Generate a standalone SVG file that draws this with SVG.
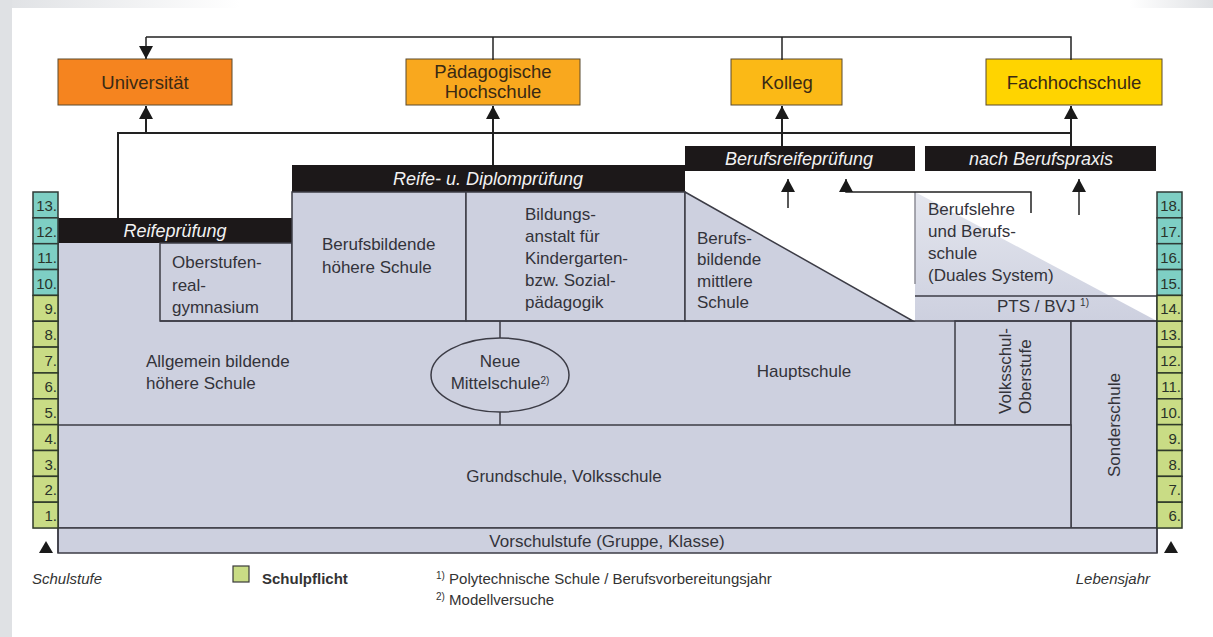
<svg xmlns="http://www.w3.org/2000/svg" width="1213" height="637" viewBox="0 0 1213 637">
<style>
.t{font-family:"Liberation Sans",Arial,sans-serif;font-size:17px;fill:#33333a}
.tb{font-family:"Liberation Sans",Arial,sans-serif;font-size:18.5px;fill:#3a2a14;text-anchor:middle}
.bar{fill:#1c1819}
.bt{font-family:"Liberation Sans",Arial,sans-serif;font-size:18px;font-style:italic;fill:#f2f2f2;text-anchor:middle}
.lav{fill:#cdd0df}
.ln{fill:none;stroke:#3c3c46;stroke-width:1.5}
.box{stroke:#5b4a2f;stroke-width:1}
.num{font-family:"Liberation Sans",Arial,sans-serif;font-size:15px;fill:#2a332a;text-anchor:end}
.teal{fill:#7ecfc4;stroke:#2f3a36;stroke-width:1.5}
.green{fill:#c9dc85;stroke:#2f3a2a;stroke-width:1.5}
.c{fill:none;stroke:#222;stroke-width:1.5}
.c2{fill:none;stroke:#222;stroke-width:2}
.leg{font-family:"Liberation Sans",Arial,sans-serif;font-size:15px;fill:#333}
.sup{font-size:10px}
</style>
<defs>
<marker id="ah" viewBox="0 0 13 14" refX="13" refY="7" markerWidth="13" markerHeight="14" markerUnits="userSpaceOnUse" orient="auto">
<path d="M0,0 L13,7 L0,14 Z" fill="#1a1a1a"/>
</marker>
<linearGradient id="gtl" x1="0" y1="0" x2="1" y2="0">
<stop offset="0" stop-color="#dfe1e4"/><stop offset="1" stop-color="#ffffff"/>
</linearGradient>
<linearGradient id="gtr" x1="0" y1="0" x2="1" y2="0">
<stop offset="0" stop-color="#ffffff"/><stop offset="1" stop-color="#dfe1e4"/>
</linearGradient>
<linearGradient id="gbl" x1="0" y1="0" x2="0" y2="1">
<stop offset="0" stop-color="#e4e6ee"/><stop offset="1" stop-color="#cdd0df"/>
</linearGradient>
</defs>

<rect width="1213" height="637" fill="#ffffff"/>
<rect x="0" y="0" width="240" height="8" fill="url(#gtl)"/>
<rect x="1130" y="0" width="83" height="8" fill="url(#gtr)"/>
<rect x="0" y="0" width="12" height="637" fill="#dfe1e4"/>

<!-- top institutions -->
<g id="universitaet"><rect class="box" x="58" y="59" width="174" height="46" fill="#f5841f"/><text class="tb" x="145" y="89">Universität</text></g>
<g id="paedagogische-hochschule"><rect class="box" x="406" y="59" width="174" height="46" fill="#f9a81e"/><text class="tb" x="493" y="78">Pädagogische</text><text class="tb" x="493" y="98">Hochschule</text></g>
<g id="kolleg"><rect class="box" x="731" y="59" width="111" height="46" fill="#fbb916"/><text class="tb" x="787" y="89">Kolleg</text></g>
<g id="fachhochschule"><rect class="box" x="986" y="59" width="176" height="46" fill="#ffd400"/><text class="tb" x="1074" y="89">Fachhochschule</text></g>

<!-- exam bars -->
<g id="reifepruefung"><rect class="bar" x="58" y="218" width="234" height="25"/><text class="bt" x="175" y="237">Reifeprüfung</text></g>
<g id="reife-diplompruefung"><rect class="bar" x="292" y="165" width="393" height="27"/><text class="bt" x="488" y="185">Reife- u. Diplomprüfung</text></g>
<g id="berufsreifepruefung"><rect class="bar" x="685" y="146" width="230" height="25"/><text class="bt" x="799" y="165">Berufsreifeprüfung</text></g>
<g id="nach-berufspraxis"><rect class="bar" x="925" y="146" width="231" height="25"/><text class="bt" x="1041" y="165">nach Berufspraxis</text></g>

<!-- schools -->
<g id="allgemein-bildende-hoehere-schule">
<path class="lav" d="M58,243 H160 V321 H955 V425 H58 Z"/>
<text class="t" x="146" y="367">Allgemein bildende</text>
<text class="t" x="146" y="389">höhere Schule</text>
</g>
<g id="oberstufenrealgymnasium">
<rect class="ln" x="160" y="243" width="132" height="78" style="fill:#cdd0df"/>
<text class="t" x="172" y="268">Oberstufen-</text>
<text class="t" x="172" y="291">real-</text>
<text class="t" x="172" y="313">gymnasium</text>
</g>
<g id="berufsbildende-hoehere-schule">
<rect class="ln" x="292" y="192" width="174" height="129" style="fill:#cdd0df"/>
<text class="t" x="322" y="250">Berufsbildende</text>
<text class="t" x="322" y="273">höhere Schule</text>
</g>
<g id="bildungsanstalt">
<rect class="ln" x="466" y="192" width="219" height="129" style="fill:#cdd0df"/>
<text class="t" x="525" y="220">Bildungs-</text>
<text class="t" x="525" y="242">anstalt für</text>
<text class="t" x="525" y="264">Kindergarten-</text>
<text class="t" x="525" y="286">bzw. Sozial-</text>
<text class="t" x="525" y="308">pädagogik</text>
</g>
<g id="berufsbildende-mittlere-schule">
<polygon class="ln" points="685,192 913,321 685,321" style="fill:#cdd0df"/>
<text class="t" x="697" y="244">Berufs-</text>
<text class="t" x="697" y="265">bildende</text>
<text class="t" x="697" y="287">mittlere</text>
<text class="t" x="697" y="308">Schule</text>
</g>
<g id="berufslehre">
<polygon points="915,192 1157,321 915,321" fill="url(#gbl)"/>
<line x1="915" y1="192" x2="915" y2="284" stroke="#8c8c96" stroke-width="1.5"/>
<text class="t" x="928" y="215">Berufslehre</text>
<text class="t" x="928" y="237">und Berufs-</text>
<text class="t" x="928" y="259">schule</text>
<text class="t" x="928" y="281">(Duales System)</text>
</g>
<g id="pts-bvj">
<line class="ln" x1="915" y1="296" x2="1157" y2="296"/>
<text class="t" x="1043" y="312" text-anchor="middle">PTS / BVJ <tspan class="sup" dy="-6">1)</tspan></text>
</g>
<g id="hauptschule">
<text class="t" x="804" y="377" text-anchor="middle">Hauptschule</text>
</g>
<g id="volksschul-oberstufe">
<rect class="ln" x="955" y="321" width="116" height="104" style="fill:#cdd0df"/>
<text class="t" transform="translate(1011,414) rotate(-90)">Volksschul-</text>
<text class="t" transform="translate(1031,414) rotate(-90)">Oberstufe</text>
</g>
<g id="sonderschule">
<rect class="ln" x="1071" y="321" width="86" height="207" style="fill:#cdd0df"/>
<text class="t" text-anchor="middle" transform="translate(1120,425) rotate(-90)">Sonderschule</text>
</g>
<g id="grundschule">
<rect class="ln" x="58" y="425" width="1013" height="103" style="fill:#cdd0df"/>
<text class="t" x="564" y="482" text-anchor="middle">Grundschule, Volksschule</text>
</g>
<g id="vorschulstufe">
<rect class="ln" x="58" y="528" width="1099" height="25" style="fill:#cdd0df"/>
<text class="t" x="607" y="547" text-anchor="middle">Vorschulstufe (Gruppe, Klasse)</text>
</g>
<g id="grid-lines">
<line class="ln" x1="58" y1="218" x2="58" y2="553"/>
<line class="ln" x1="160" y1="321" x2="1157" y2="321"/>
<line class="ln" x1="1157" y1="296" x2="1157" y2="553"/>
</g>
<g id="neue-mittelschule">
<line class="ln" x1="500" y1="321" x2="500" y2="338"/>
<line class="ln" x1="500" y1="412" x2="500" y2="425"/>
<ellipse class="ln" cx="500" cy="375" rx="69" ry="37" style="fill:#cdd0df"/>
<text class="t" x="500" y="367" text-anchor="middle">Neue</text>
<text class="t" x="500" y="389" text-anchor="middle">Mittelschule<tspan class="sup" dy="-5">2)</tspan></text>
</g>

<!-- connectors -->
<g id="connectors">
<path class="c" d="M146,37 H1071 V60"/>
<path class="c" d="M146,37 V59" marker-end="url(#ah)"/>
<path class="c" d="M493,37 V60"/>
<path class="c" d="M782,37 V60"/>
<path class="c2" d="M118,218 V133 H1072" stroke-width="2.5"/>
<path class="c2" d="M146,133 V106" marker-end="url(#ah)"/>
<path class="c2" d="M493,165 V106" marker-end="url(#ah)"/>
<path class="c2" d="M782,146 V106" marker-end="url(#ah)"/>
<path class="c2" d="M1071,146 V106" marker-end="url(#ah)"/>
<path class="c" d="M788,208 V179" marker-end="url(#ah)"/>
<path class="c" d="M1079,215 V179" marker-end="url(#ah)"/>
<path class="c" d="M1031,213 V192 H846 V179" marker-end="url(#ah)"/>
</g>

<!-- Schulstufe column -->
<g id="schulstufe-scale">
<rect class="teal" x="33" y="192" width="25" height="25.85"/><text class="num" x="57" y="211">13.</text>
<rect class="teal" x="33" y="217.85" width="25" height="25.85"/><text class="num" x="57" y="236.85">12.</text>
<rect class="teal" x="33" y="243.7" width="25" height="25.85"/><text class="num" x="57" y="262.7">11.</text>
<rect class="teal" x="33" y="269.55" width="25" height="25.85"/><text class="num" x="57" y="288.55">10.</text>
<rect class="green" x="33" y="295.4" width="25" height="25.85"/><text class="num" x="57" y="314.4">9.</text>
<rect class="green" x="33" y="321.25" width="25" height="25.85"/><text class="num" x="57" y="340.25">8.</text>
<rect class="green" x="33" y="347.1" width="25" height="25.85"/><text class="num" x="57" y="366.1">7.</text>
<rect class="green" x="33" y="372.95" width="25" height="25.85"/><text class="num" x="57" y="391.95">6.</text>
<rect class="green" x="33" y="398.8" width="25" height="25.85"/><text class="num" x="57" y="417.8">5.</text>
<rect class="green" x="33" y="424.65" width="25" height="25.85"/><text class="num" x="57" y="443.65">4.</text>
<rect class="green" x="33" y="450.5" width="25" height="25.85"/><text class="num" x="57" y="469.5">3.</text>
<rect class="green" x="33" y="476.35" width="25" height="25.85"/><text class="num" x="57" y="495.35">2.</text>
<rect class="green" x="33" y="502.2" width="25" height="25.85"/><text class="num" x="57" y="521.2">1.</text>
<polygon points="46,541 53,553 39,553" fill="#1a1a1a"/>
</g>

<!-- Lebensjahr column -->
<g id="lebensjahr-scale">
<rect class="teal" x="1157" y="192" width="25" height="25.85"/><text class="num" x="1181" y="211">18.</text>
<rect class="teal" x="1157" y="217.85" width="25" height="25.85"/><text class="num" x="1181" y="236.85">17.</text>
<rect class="teal" x="1157" y="243.7" width="25" height="25.85"/><text class="num" x="1181" y="262.7">16.</text>
<rect class="teal" x="1157" y="269.55" width="25" height="25.85"/><text class="num" x="1181" y="288.55">15.</text>
<rect class="green" x="1157" y="295.4" width="25" height="25.85"/><text class="num" x="1181" y="314.4">14.</text>
<rect class="green" x="1157" y="321.25" width="25" height="25.85"/><text class="num" x="1181" y="340.25">13.</text>
<rect class="green" x="1157" y="347.1" width="25" height="25.85"/><text class="num" x="1181" y="366.1">12.</text>
<rect class="green" x="1157" y="372.95" width="25" height="25.85"/><text class="num" x="1181" y="391.95">11.</text>
<rect class="green" x="1157" y="398.8" width="25" height="25.85"/><text class="num" x="1181" y="417.8">10.</text>
<rect class="green" x="1157" y="424.65" width="25" height="25.85"/><text class="num" x="1181" y="443.65">9.</text>
<rect class="green" x="1157" y="450.5" width="25" height="25.85"/><text class="num" x="1181" y="469.5">8.</text>
<rect class="green" x="1157" y="476.35" width="25" height="25.85"/><text class="num" x="1181" y="495.35">7.</text>
<rect class="green" x="1157" y="502.2" width="25" height="25.85"/><text class="num" x="1181" y="521.2">6.</text>
<polygon points="1171,541 1178,553 1164,553" fill="#1a1a1a"/>
</g>

<!-- legend -->
<g id="legend">
<text class="leg" x="32" y="584" font-style="italic">Schulstufe</text>
<rect x="233" y="566" width="16" height="16" fill="#c9dc85" stroke="#3a3a3a" stroke-width="1.2"/>
<text class="leg" x="262" y="584" font-weight="bold">Schulpflicht</text>
<text class="leg" x="436" y="584"><tspan class="sup" dy="-5">1)</tspan><tspan dy="5"> Polytechnische Schule / Berufsvorbereitungsjahr</tspan></text>
<text class="leg" x="436" y="605"><tspan class="sup" dy="-5">2)</tspan><tspan dy="5"> Modellversuche</tspan></text>
<text class="leg" x="1150" y="584" font-style="italic" text-anchor="end">Lebensjahr</text>
</g>
</svg>
